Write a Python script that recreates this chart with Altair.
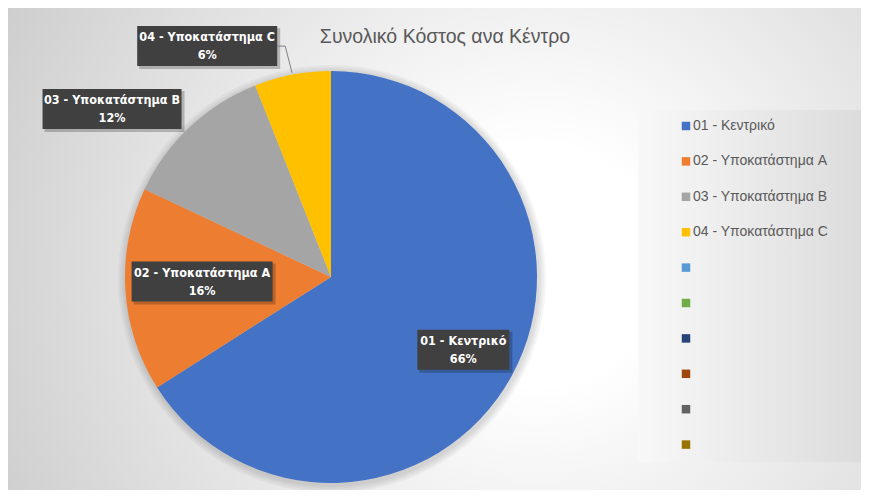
import altair as alt
import pandas as pd

# ---- data ----
categories = ["01 - Κεντρικό", "02 - Υποκατάστημα A", "03 - Υποκατάστημα B", "04 - Υποκατάστημα C"]
shares = [66, 16, 12, 6]
extra_legend = ["e5", "e6", "e7", "e8", "e9", "e10"]
colors = ["#4472C4", "#ED7D31", "#A5A5A5", "#FFC000", "#5B9BD5",
          "#70AD47", "#264478", "#9E480E", "#636363", "#997300"]
title_text = "Συνολικό Κόστος ανα Κέντρο"

# ---- styling / layout ----
W, H = 853, 482
CX, CY, R = 323, 269, 206
label_r = [151, 129, 276, 262]
label_nudge = [0, 1.6, -9.3, -17.4]
box_w = [92, 141, 139, 140]
box_h = 40
leader = [False, False, False, True]
LBL_FONT = "DejaVu Sans Condensed"
TXT_FONT = "Liberation Sans, Arial, sans-serif"

df = pd.DataFrame({
    "cat": categories, "val": shares, "order": list(range(len(categories))),
    "lr": label_r, "nudge": label_nudge, "bw": box_w, "leader": leader,
})
one = pd.DataFrame({"a": [0]})

bg = alt.Chart(one).mark_rect(
    fill=alt.Gradient(gradient="radial",
                      stops=[alt.GradientStop(color="#ffffff", offset=0),
                             alt.GradientStop(color="#ffffff", offset=0.18),
                             alt.GradientStop(color="#c6c6c6", offset=1)],
                      x1=0.62, y1=0.52, r1=0, x2=0.62, y2=0.52, r2=0.78)
).encode(x=alt.value(0), x2=alt.value(W), y=alt.value(0), y2=alt.value(H))

legend_box = alt.Chart(one).mark_rect(
    fill=alt.Gradient(gradient="linear",
                      stops=[alt.GradientStop(color="#f8f8f8", offset=0),
                             alt.GradientStop(color="#dcdcdc", offset=1)],
                      x1=0, y1=0, x2=1, y2=0)
).encode(x=alt.value(630), x2=alt.value(W), y=alt.value(102), y2=alt.value(454))

shadows = [
    alt.Chart(df).mark_arc(radius=R + k, color="#000000", opacity=0.035).encode(
        theta=alt.Theta("val:Q", stack=True), x=alt.value(CX + 1), y=alt.value(CY + 2))
    for k in (2, 4, 6, 8)
]

pie = alt.Chart(df).mark_arc(radius=R).encode(
    theta=alt.Theta("val:Q", stack=True),
    order=alt.Order("order:Q"),
    color=alt.Color("cat:N",
                    scale=alt.Scale(domain=categories + extra_legend, range=colors),
                    legend=alt.Legend(title=None, orient="none", legendX=671, legendY=111,
                                      symbolType="square", symbolSize=72, symbolStrokeWidth=0,
                                      labelFontSize=14, labelColor="#595959", labelFont=TXT_FONT,
                                      rowPadding=21.4, labelOffset=0, padding=0,
                                      labelExpr="length(datum.label) > 3 ? datum.label : ''")),
    x=alt.value(CX), y=alt.value(CY),
)

lbl = alt.Chart(df).transform_joinaggregate(total="sum(val)").transform_window(
    cum="sum(val)", sort=[alt.SortField("order")]
).transform_calculate(
    mid="(datum.cum - datum.val/2)/datum.total*2*PI",
    ang="datum.mid + datum.nudge*PI/180",
).transform_calculate(
    lx=f"{CX} + datum.lr*sin(datum.ang)",
    ly=f"{CY} - datum.lr*cos(datum.ang)",
    ex=f"{CX} + {R + 2}*sin(datum.mid)",
    ey=f"{CY} - {R + 2}*cos(datum.mid)",
    txt="datum.cat + '\\n' + format(datum.val/datum.total, '.0%')",
).transform_calculate(
    x1="datum.lx - datum.bw/2", x2="datum.lx + datum.bw/2",
    y1=f"datum.ly - {box_h / 2}", y2=f"datum.ly + {box_h / 2}",
    sx1="datum.lx - datum.bw/2 + 2", sx2="datum.lx + datum.bw/2 + 3",
    sy1=f"datum.ly - {box_h / 2} + 2", sy2=f"datum.ly + {box_h / 2} + 3",
    kx="datum.lx + datum.bw/2 + 8",
)

box_shadow = lbl.mark_rect(color="#000000", opacity=0.22).encode(
    x=alt.X("sx1:Q", scale=None, axis=None), x2="sx2:Q",
    y=alt.Y("sy1:Q", scale=None, axis=None), y2="sy2:Q")
box = lbl.mark_rect(color="#404040").encode(
    x=alt.X("x1:Q", scale=None, axis=None), x2="x2:Q",
    y=alt.Y("y1:Q", scale=None, axis=None), y2="y2:Q")
text = lbl.mark_text(color="white", font=LBL_FONT, fontSize=12.5, fontWeight="bold",
                     lineBreak="\n", lineHeight=18, baseline="middle", dy=-9).encode(
    x=alt.X("lx:Q", scale=None, axis=None), y=alt.Y("ly:Q", scale=None, axis=None),
    text="txt:N")
lead1 = lbl.transform_filter("datum.leader").mark_rule(color="#808080", strokeWidth=1).encode(
    x=alt.X("x2:Q", scale=None, axis=None), x2="kx:Q",
    y=alt.Y("ly:Q", scale=None, axis=None), y2="ly:Q")
lead2 = lbl.transform_filter("datum.leader").mark_rule(color="#808080", strokeWidth=1).encode(
    x=alt.X("kx:Q", scale=None, axis=None), x2="ex:Q",
    y=alt.Y("ly:Q", scale=None, axis=None), y2="ey:Q")

title = alt.Chart(one).mark_text(text=title_text, font=TXT_FONT, fontSize=19.5,
                                 color="#595959", baseline="middle", align="center").encode(
    x=alt.value(437), y=alt.value(29))

chart = alt.layer(bg, legend_box, *shadows, pie, box_shadow, box, text, lead1, lead2, title).properties(
    width=W, height=H, autosize="none", padding=0, background="white"
).configure_view(stroke=None)

chart.save("out.html", embed_options={"renderer": "svg", "actions": False})
